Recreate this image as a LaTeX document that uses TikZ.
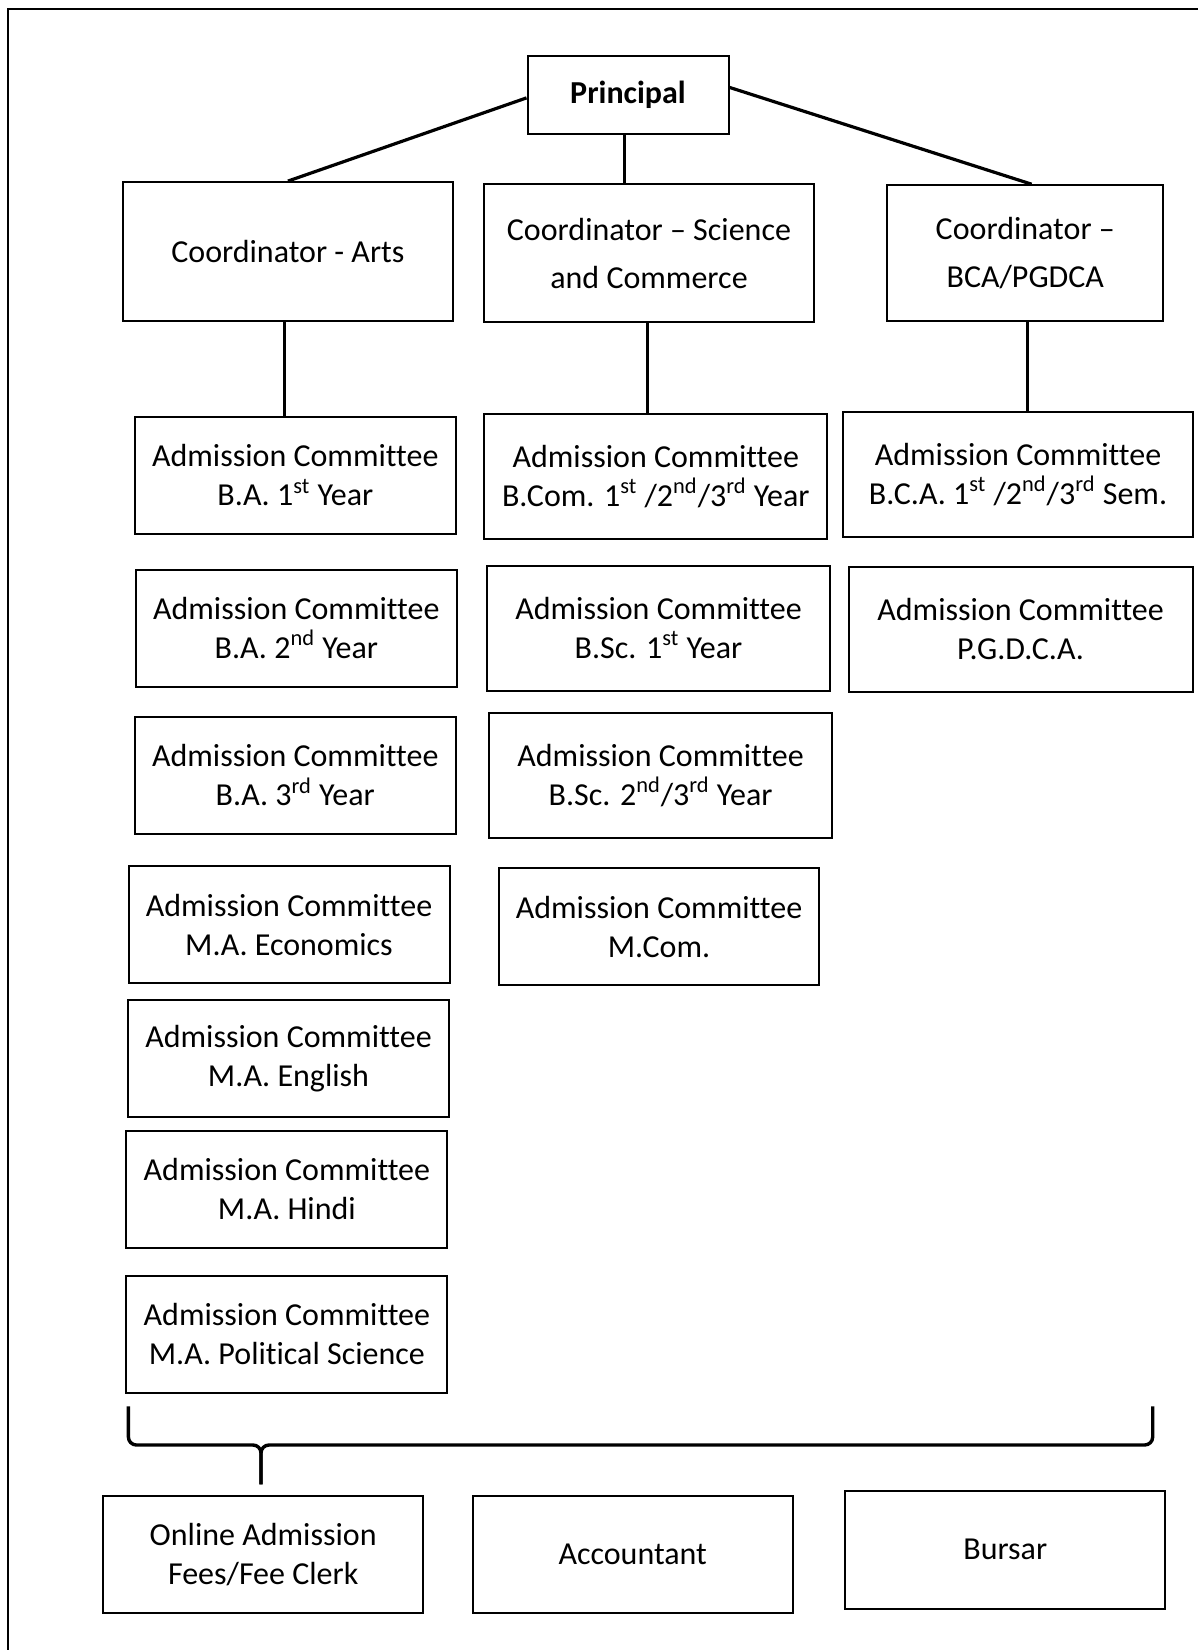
\documentclass[tikz,border=0pt]{standalone}
\usepackage{fontspec}
\setmainfont{Carlito}[Ligatures={TeX,NoCommon}]
\usetikzlibrary{positioning}

\begin{document}
\begin{tikzpicture}[
        x=0.5pt, y=-0.5pt,
        box/.style={
            draw,
            line width=1pt,
            align=center,
            inner sep=0pt,
            font=\fontsize{16}{19.5}\selectfont
        },
        coord/.style={
            box,
            font=\fontsize{16}{24}\selectfont
        },
        adm/.style={
            box,
            minimum width=160.5pt,
            minimum height=58.5pt
        },
        admw/.style={
            box,
            minimum width=171.5pt,
            minimum height=62.5pt
        },
        link/.style={line width=1.6pt},
        brace/.style={line width=1.7pt, rounded corners=4pt}
    ]
        \useasboundingbox (0,0) rectangle (1198,1650);
        \draw[line width=0.8pt] (8,1650) -- (8,9) -- (1198,9);

        % top levels
        \node[box, font=\fontsize{16}{19.5}\selectfont\bfseries, minimum width=100.5pt, minimum height=39pt] (P) at (628,94.7) {Principal};
        \node[coord, minimum width=164.75pt, minimum height=69.5pt] (CA) at (287.9,251.6) {Coordinator - Arts};
        \node[coord, minimum width=164.75pt, minimum height=69pt] (CS) at (649,253.2) {Coordinator -- Science\\and Commerce};
        \node[coord, minimum width=138pt, minimum height=68pt] (CB) at (1025.3,253.2) {Coordinator --\\BCA/PGDCA};

        % arts
        \node[adm] (A1) at (295.3,475.3) {Admission Committee\\B.A. 1\textsuperscript{st} Year};
        \node[adm] (A2) at (296.3,628) {Admission Committee\\B.A. 2\textsuperscript{nd} Year};
        \node[adm] (A3) at (295.3,775.3) {Admission Committee\\B.A. 3\textsuperscript{rd} Year};
        \node[adm] (A4) at (289,924.8) {Admission Committee\\M.A. Economics};
        \node[adm] (A5) at (288.5,1058.5) {Admission Committee\\M.A. English};
        \node[adm] (A6) at (286.9,1189) {Admission Committee\\M.A. Hindi};
        \node[adm] (A7) at (286.9,1334.3) {Admission Committee\\M.A. Political Science};

        % science and commerce
        \node[admw] (S1) at (655.8,476.4) {Admission Committee\\B.Com. 1\textsuperscript{st} /2\textsuperscript{nd}/3\textsuperscript{rd} Year};
        \node[admw] (S2) at (658.5,628) {Admission Committee\\B.Sc. 1\textsuperscript{st} Year};
        \node[admw] (S3) at (660.6,775.4) {Admission Committee\\B.Sc. 2\textsuperscript{nd}/3\textsuperscript{rd} Year};
        \node[adm, minimum width=160pt] (S4) at (659,926.9) {Admission Committee\\M.Com.};

        % bca / pgdca
        \node[admw, minimum width=174.75pt] (B1) at (1018,474.3) {Admission Committee\\B.C.A. 1\textsuperscript{st} /2\textsuperscript{nd}/3\textsuperscript{rd} Sem.};
        \node[admw, minimum width=172pt] (B2) at (1020.6,629) {Admission Committee\\P.G.D.C.A.};

        % office
        \node[adm, minimum width=160pt] (OF) at (263.2,1554.3) {Online Admission\\Fees/Fee Clerk};
        \node[adm, minimum width=160pt] (AC) at (632.7,1554.3) {Accountant};
        \node[adm, minimum width=160pt, minimum height=59pt] (BU) at (1005.3,1549.6) {Bursar};

        % links
        \draw[link] ([yshift=-1.6pt]P.west) -- (CA.north);
        \draw[link] ([yshift=3.65pt]P.east) -- ([xshift=3.15pt]CB.north);
        \draw[link] ([xshift=-1.85pt]P.south) -- ([xshift=-1.85pt]P.south |- CS.north);
        \draw[link] ([xshift=-1.85pt]CA.south) -- ([xshift=-1.85pt]CA.south |- A1.north);
        \draw[link] ([xshift=-0.8pt]CS.south) -- ([xshift=-0.8pt]CS.south |- S1.north);
        \draw[link] ([xshift=1pt]CB.south) -- ([xshift=1pt]CB.south |- B1.north);

        % brace
        \coordinate (bl) at (128.4,1406.4);
        \coordinate (br) at (1152.7,1406.4);
        \coordinate (bm) at (261,1445);
        \coordinate (tip) at (261,1484.3);
        \draw[brace] (bl) -- (bl |- bm) -- (bm) -- (tip);
        \draw[brace] (br) -- (br |- bm) -- (bm) -- (tip);
    \end{tikzpicture}
\end{document}
